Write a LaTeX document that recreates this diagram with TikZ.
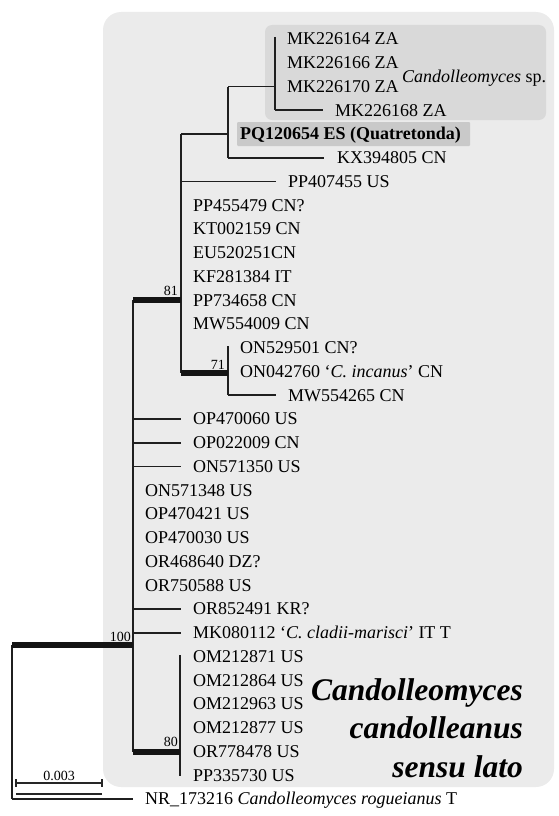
\documentclass[tikz,border=0pt]{standalone}
\usepackage{fontspec}
\setmainfont{Liberation Serif}
\begin{document}
\begin{tikzpicture}[x=1pt,y=-1pt,
  br/.style={draw=black!88,line width=1.6pt},
  thk/.style={draw=black!92,line width=6pt},
  lab/.style={anchor=west,inner sep=0pt,font=\fontsize{18}{20}\selectfont,text height=11.9pt,text depth=0pt},
  sup/.style={anchor=base east,inner sep=0pt,font=\fontsize{14}{16}\selectfont},
  big/.style={anchor=base east,inner sep=0pt,font=\fontsize{31.5}{36}\selectfont\bfseries\itshape},
  sbar/.style={draw=black!85,line width=1.1pt}]
\useasboundingbox (0,0) rectangle (559,816);
% backgrounds
\fill[black!8,rounded corners=18pt] (103,12) rectangle (554,787);
\fill[black!15,rounded corners=7pt] (265,25) rectangle (546,120);
\fill[black!21,rounded corners=1pt] (237,122) rectangle (470,146);
% internal nodes
\coordinate (root) at (12,645);
\coordinate (n100) at (133,645);
\coordinate (n81) at (181,300.25);
\coordinate (nA) at (228,134);
\coordinate (nB) at (275,86.5);
\coordinate (n71) at (228,373);
\coordinate (n80) at (180,751.5);
% vertical extents
\coordinate (nBt) at (275,37); \coordinate (nBb) at (275,110.25);
\coordinate (nAt) at (228,86.5); \coordinate (nAb) at (228,157.75);
\coordinate (n81t) at (181,134); \coordinate (n81b) at (181,373);
\coordinate (n71t) at (228,346); \coordinate (n71b) at (228,395.25);
\coordinate (n100t) at (133,300.25); \coordinate (n100b) at (133,751.5);
\coordinate (n80t) at (180,655); \coordinate (n80b) at (180,776);
\coordinate (roott) at (12,645); \coordinate (rootb) at (12,799);
% branch ends
\coordinate (eMK168) at (323,110.25);
\coordinate (eKX) at (324,157.75);
\coordinate (ePP407) at (276,181.5);
\coordinate (eMW265) at (276,395.25);
\coordinate (eOP060) at (181,419);
\coordinate (eOP009) at (181,442.75);
\coordinate (eON350) at (181,466.5);
\coordinate (eOR491) at (181,609);
\coordinate (eMK112) at (181,632.75);
\coordinate (eNR) at (133,799);
% verticals
\draw[br] (nBt) -- (nBb);
\draw[br] (nAt) -- (nAb);
\draw[br] (n81t) -- (n81b);
\draw[br] (n71t) -- (n71b);
\draw[br] (n100t) -- (n100b);
\draw[br] (n80t) -- (n80b);
\draw[br] (roott) -- (rootb);
% horizontals
\draw[br] (n81 |- nA) -- (nA);
\draw[br] (nA |- nB) -- (nB);
\draw[br] (nB |- eMK168) -- (eMK168);
\draw[br] (nA |- eKX) -- (eKX);
\draw[br] (n81 |- ePP407) -- (ePP407);
\draw[br] (n71 |- eMW265) -- (eMW265);
\draw[br] (n100 |- eOP060) -- (eOP060);
\draw[br] (n100 |- eOP009) -- (eOP009);
\draw[br] (n100 |- eON350) -- (eON350);
\draw[br] (n100 |- eOR491) -- (eOR491);
\draw[br] (n100 |- eMK112) -- (eMK112);
\draw[br] (root |- eNR) -- (eNR);
\draw[thk] (n81 |- n71) -- (n71);
\draw[thk] (n100 |- n81) -- (n81);
\draw[thk] (n100 |- n80) -- (n80);
\draw[thk] (root) -- (n100);
% support values
\node[sup] (s81) at (178,295.5) {81};
\node[sup] (s71) at (225,369.5) {71};
\node[sup] (s100) at (131,641) {100};
\node[sup] (s80) at (178,746) {80};
% labels
\node[lab] (l0) at (287,39) {MK226164 ZA};
\node[lab] (l1) at (287,62.75) {MK226166 ZA};
\node[lab] (l2) at (287,86.5) {MK226170 ZA};
\node[lab] (l3) at (335,110.25) {MK226168 ZA};
\node[anchor=base west,inner sep=0pt,font=\fontsize{18}{20}\selectfont] (csp) at (402,82.5) {\textit{Candolleomyces} sp.};
\node[lab,font=\fontsize{18}{20}\selectfont\bfseries] (l4) at (240,134) {PQ120654 ES (Quatretonda)};
\node[lab] (l5) at (337,157.75) {KX394805 CN};
\node[lab] (l6) at (288,181.5) {PP407455 US};
\node[lab] (l7) at (193,205.25) {PP455479 CN?};
\node[lab] (l8) at (193,229) {KT002159 CN};
\node[lab] (l9) at (193,252.75) {EU520251CN};
\node[lab] (l10) at (193,276.5) {KF281384 IT};
\node[lab] (l11) at (193,300.25) {PP734658 CN};
\node[lab] (l12) at (193,324) {MW554009 CN};
\node[lab] (l13) at (240,347.75) {ON529501 CN?};
\node[lab] (l14) at (240,371.5) {ON042760 ‘\textit{C. incanus}’ CN};
\node[lab] (l15) at (288,395.25) {MW554265 CN};
\node[lab] (l16) at (193,419) {OP470060 US};
\node[lab] (l17) at (193,442.75) {OP022009 CN};
\node[lab] (l18) at (193,466.5) {ON571350 US};
\node[lab] (l19) at (145,490.25) {ON571348 US};
\node[lab] (l20) at (145,514) {OP470421 US};
\node[lab] (l21) at (145,537.75) {OP470030 US};
\node[lab] (l22) at (145,561.5) {OR468640 DZ?};
\node[lab] (l23) at (145,585.25) {OR750588 US};
\node[lab] (l24) at (193,609) {OR852491 KR?};
\node[lab] (l25) at (193,632.75) {MK080112 ‘\textit{C. cladii-marisci}’ IT T};
\node[lab] (l26) at (193,656.5) {OM212871 US};
\node[lab] (l27) at (193,680.25) {OM212864 US};
\node[lab] (l28) at (193,704) {OM212963 US};
\node[lab] (l29) at (193,727.75) {OM212877 US};
\node[lab] (l30) at (193,751.5) {OR778478 US};
\node[lab] (l31) at (193,775.25) {PP335730 US};
\node[lab] (l32) at (145,799) {NR\_173216 \textit{Candolleomyces rogueianus} T};
% big clade name
\node[big] (b1) at (523,700) {Candolleomyces};
\node[big] (b2) at (523,738.5) {candolleanus};
\node[big] (b3) at (523,777) {sensu lato};
% scale bar
\coordinate (sbL) at (16,783); \coordinate (sbR) at (102,783);
\coordinate (sbL2) at (16,794); \coordinate (sbR2) at (102,794);
\draw[sbar] (sbL) -- (sbR);
\draw[sbar] ([yshift=4pt]sbL) -- ([yshift=-4pt]sbL);
\draw[sbar] ([yshift=4pt]sbR) -- ([yshift=-4pt]sbR);
\draw[sbar] (sbL2) -- (sbR2);
\node[anchor=base,inner sep=0pt,font=\fontsize{14}{16}\selectfont] (sbl) at (59,780.5) {0.003};
\end{tikzpicture}
\end{document}
